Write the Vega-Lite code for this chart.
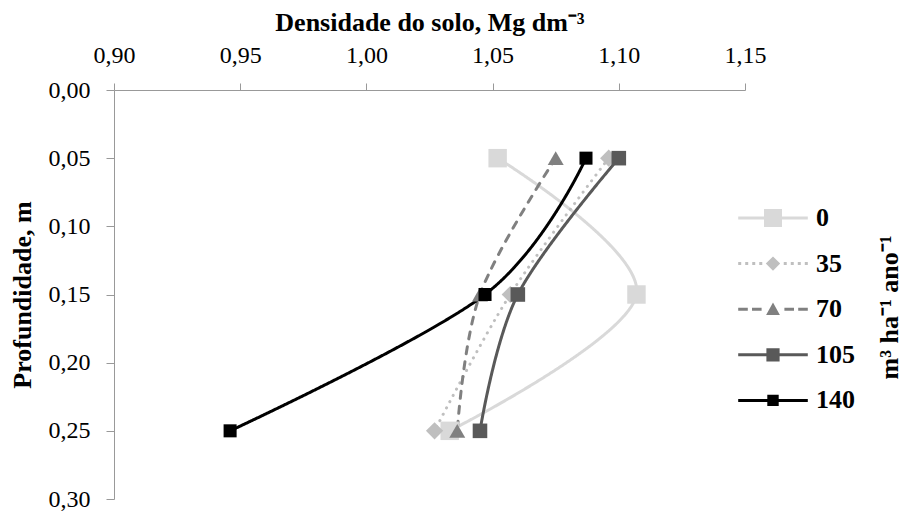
{
  "$schema": "https://vega.github.io/schema/vega-lite/v6.json",
  "autosize": {"type": "none"},
  "padding": {"left": 114, "top": 90, "right": 159, "bottom": 13},
  "width": 631,
  "height": 409,
  "background": "white",
  "data": {
    "values": [
      {"series": "0", "depth": 0.05, "density": 1.052},
      {"series": "0", "depth": 0.15, "density": 1.107},
      {"series": "0", "depth": 0.25, "density": 1.033},
      {"series": "35", "depth": 0.05, "density": 1.096},
      {"series": "35", "depth": 0.15, "density": 1.057},
      {"series": "35", "depth": 0.25, "density": 1.027},
      {"series": "70", "depth": 0.05, "density": 1.075},
      {"series": "70", "depth": 0.15, "density": 1.045},
      {"series": "70", "depth": 0.25, "density": 1.036},
      {"series": "105", "depth": 0.05, "density": 1.1},
      {"series": "105", "depth": 0.15, "density": 1.06},
      {"series": "105", "depth": 0.25, "density": 1.045},
      {"series": "140", "depth": 0.05, "density": 1.087},
      {"series": "140", "depth": 0.15, "density": 1.047},
      {"series": "140", "depth": 0.25, "density": 0.946}
    ]
  },
  "encoding": {
    "x": {
      "field": "density",
      "type": "quantitative",
      "scale": {"domain": [0.9, 1.15], "nice": false, "zero": false},
      "axis": {
        "orient": "top",
        "values": [0.9, 0.95, 1.0, 1.05, 1.1, 1.15],
        "labelExpr": "replace(format(datum.value, '.2f'), '.', ',')",
        "tickSize": 7,
        "labelPadding": 16,
        "labelFlush": false,
        "labelOverlap": false,
        "title": "Densidade do solo, Mg dm⁻³",
        "titlePadding": 8
      }
    }
  },
  "layer": [
    {
      "mark": {"type": "line", "interpolate": "cardinal", "strokeWidth": 3, "strokeCap": "round"},
      "encoding": {
        "y": {
          "field": "depth",
          "type": "quantitative",
          "scale": {"domain": [0, 0.3], "reverse": true, "nice": false, "zero": false},
          "axis": {
            "orient": "left",
            "values": [0, 0.05, 0.1, 0.15, 0.2, 0.25, 0.3],
            "labelExpr": "replace(format(datum.value, '.2f'), '.', ',')",
            "tickSize": 8,
            "labelPadding": 16,
            "labelFlush": false,
            "labelOverlap": false,
            "title": "Profundidade, m",
            "titlePadding": 13
          }
        },
        "color": {
          "field": "series",
          "type": "nominal",
          "scale": {"domain": ["0", "35", "70", "105", "140"], "range": ["#d9d9d9", "#bfbfbf", "#808080", "#595959", "#000000"]},
          "legend": null
        },
        "strokeDash": {
          "field": "series",
          "type": "nominal",
          "scale": {"domain": ["0", "35", "70", "105", "140"], "range": [[1, 0], [0.1, 7], [7, 8], [1, 0], [1, 0]]},
          "legend": null
        },
        "order": {"field": "depth", "type": "quantitative"}
      }
    },
    {
      "mark": {"type": "point", "filled": true, "opacity": 1},
      "encoding": {
        "y": {
          "field": "depth",
          "type": "quantitative",
          "scale": {"domain": [0, 0.3], "reverse": true, "nice": false, "zero": false},
          "axis": null
        },
        "color": {
          "field": "series",
          "type": "nominal",
          "scale": {"domain": ["0", "35", "70", "105", "140"], "range": ["#d9d9d9", "#bfbfbf", "#808080", "#595959", "#000000"]},
          "legend": null
        },
        "shape": {
          "field": "series",
          "type": "nominal",
          "scale": {"domain": ["0", "35", "70", "105", "140"], "range": ["square", "diamond", "triangle-up", "square", "square"]},
          "legend": null
        },
        "size": {
          "field": "series",
          "type": "nominal",
          "scale": {"domain": ["0", "35", "70", "105", "140"], "range": [340, 170, 200, 196, 196]},
          "legend": null
        }
      }
    },
    {
      "mark": {"type": "point", "filled": true, "opacity": 1, "size": 0},
      "encoding": {
        "y": {
          "field": "depth",
          "type": "quantitative",
          "scale": {"domain": [0, 0.3], "reverse": true, "nice": false, "zero": false},
          "axis": {
            "orient": "right",
            "labels": false,
            "ticks": false,
            "domain": false,
            "grid": false,
            "title": "m³ ha⁻¹ ano⁻¹",
            "titleAngle": 270,
            "titleBaseline": "alphabetic",
            "titlePadding": 152,
            "titleY": 217
          }
        },
        "color": {
          "field": "series",
          "type": "nominal",
          "scale": {"domain": ["0", "35", "70", "105", "140"], "range": ["#d9d9d9", "#bfbfbf", "#808080", "#595959", "#000000"]},
          "legend": {
            "orient": "none",
            "legendX": 646,
            "legendY": 115,
            "title": null,
            "labelOffset": 30,
            "rowPadding": 19.6,
            "symbolSize": 144,
            "symbolStrokeWidth": 0
          }
        },
        "shape": {
          "field": "series",
          "type": "nominal",
          "scale": {
            "domain": ["0", "35", "70", "105", "140"],
            "range": [
              "M-5.8,-0.25H5.8V0.25H-5.8Z M-1.5,-1.5H1.5V1.5H-1.5Z",
              "M-5.8,-0.25H-5.3V0.25H-5.8Z M-4.63,-0.25H-4.13V0.25H-4.63Z M-3.46,-0.25H-2.96V0.25H-3.46Z M-2.29,-0.25H-1.79V0.25H-2.29Z M1.79,-0.25H2.29V0.25H1.79Z M2.96,-0.25H3.46V0.25H2.96Z M4.13,-0.25H4.63V0.25H4.13Z M5.3,-0.25H5.8V0.25H5.3Z M0,-1.2L1.2,0L0,1.2L-1.2,0Z",
              "M-5.8,-0.25H-4.2V0.25H-5.8Z M-3.5,-0.25H-1.9V0.25H-3.5Z M1.9,-0.25H3.5V0.25H1.9Z M4.2,-0.25H5.8V0.25H4.2Z M0,-1.1L1.15,0.95L-1.15,0.95Z",
              "M-5.8,-0.25H5.8V0.25H-5.8Z M-1.1,-1.1H1.1V1.1H-1.1Z",
              "M-5.8,-0.25H5.8V0.25H-5.8Z M-0.95,-0.95H0.95V0.95H-0.95Z"
            ]
          },
          "legend": {
            "orient": "none",
            "legendX": 646,
            "legendY": 115,
            "title": null,
            "labelOffset": 30,
            "rowPadding": 19.6,
            "symbolSize": 144,
            "symbolStrokeWidth": 0
          }
        }
      }
    }
  ],
  "resolve": {
    "scale": {"y": "independent", "color": "independent", "shape": "independent"},
    "legend": {"color": "independent", "shape": "independent"}
  },
  "config": {
    "view": {"stroke": null},
    "font": "Liberation Serif",
    "axis": {
      "labelFont": "Liberation Serif",
      "labelFontSize": 24,
      "labelColor": "#000000",
      "titleFont": "Liberation Serif",
      "titleFontSize": 26,
      "titleFontWeight": "bold",
      "titleColor": "#000000",
      "domainColor": "#999999",
      "tickColor": "#999999",
      "grid": false
    },
    "legend": {
      "labelFont": "Liberation Serif",
      "labelFontSize": 26,
      "labelFontWeight": "bold",
      "labelColor": "#000000"
    }
  }
}
